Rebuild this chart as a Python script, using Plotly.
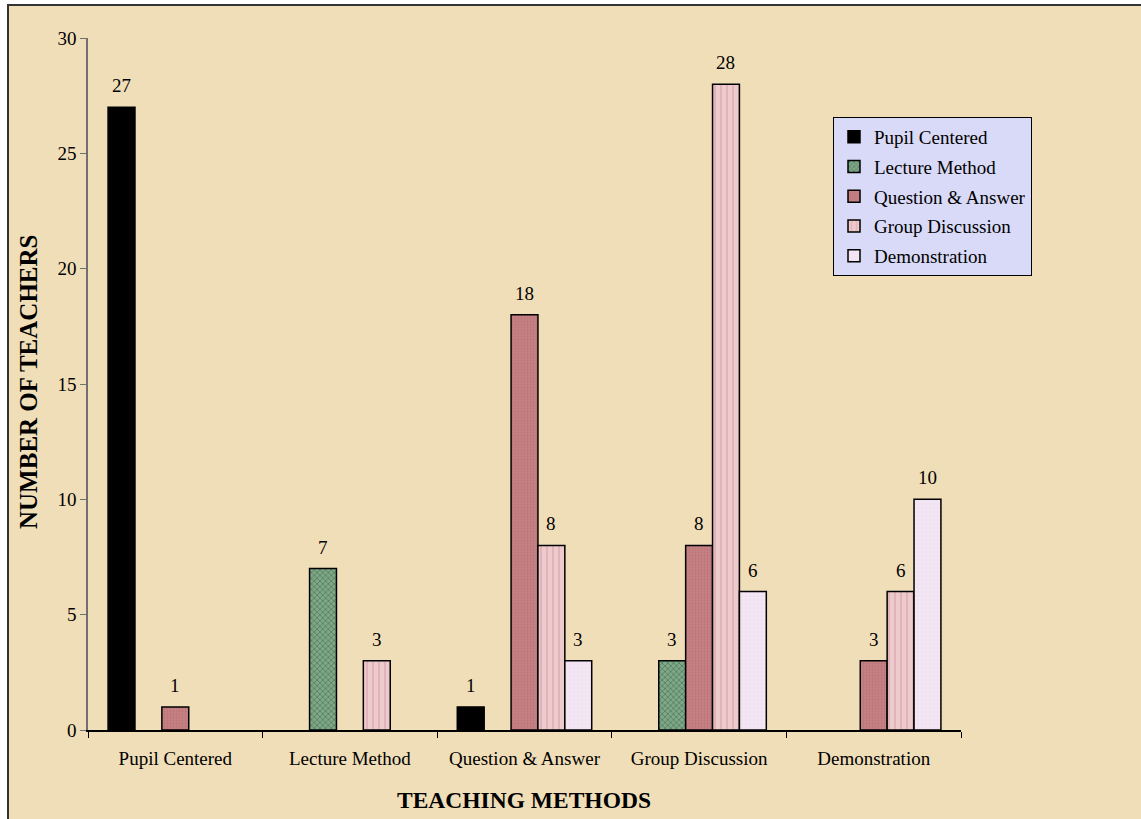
import plotly.graph_objects as go

categories = ["Pupil Centered", "Lecture Method", "Question & Answer", "Group Discussion", "Demonstration"]
series_names = ["Pupil Centered", "Lecture Method", "Question & Answer", "Group Discussion", "Demonstration"]
pupil_centered = [27, 0, 1, 0, 0]
lecture_method = [0, 7, 0, 3, 0]
question_answer = [1, 0, 18, 8, 3]
group_discussion = [0, 3, 8, 28, 6]
demonstration = [0, 0, 3, 6, 10]
y_ticks = [0, 5, 10, 15, 20, 25, 30]
x_title = "TEACHING METHODS"
y_title = "NUMBER OF TEACHERS"

series_values = [pupil_centered, lecture_method, question_answer, group_discussion, demonstration]
styles = [
    dict(color="#000000", pattern=None),
    dict(color="#6E9A78", pattern=dict(shape="x", fgcolor="#2F5A3A", bgcolor="#7FA888", size=4, solidity=0.4)),
    dict(color="#C07A7C", pattern=dict(shape=".", fgcolor="#B06A6E", bgcolor="#C58083", size=3, solidity=0.3)),
    dict(color="#ECC8CA", pattern=dict(shape="|", fgcolor="#D69EA6", bgcolor="#EDCBCD", size=6, solidity=0.35)),
    dict(color="#F2E4F2", pattern=dict(shape="+", fgcolor="#E3C8E3", bgcolor="#F4E8F4", size=4, solidity=0.25)),
]

FONT = "Liberation Serif, Times New Roman, serif"
FS = 19
L, R, T, B = 88, 180, 38, 89
W, H = 1141, 819
pw, ph = W - L - R, H - T - B
BARGAP = 0.23
n_series = len(series_names)
bar_px = pw / len(categories) * (1 - BARGAP) / n_series

def px_x(x):
    return (x - L) / pw

def px_y(y):
    return (H - B - y) / ph

fig = go.Figure()
for i, (name, vals) in enumerate(zip(series_names, series_values)):
    st = styles[i]
    marker = dict(color=st["color"], line=dict(color="#000000", width=1.5))
    if st["pattern"] is not None:
        marker["pattern"] = st["pattern"]
    fig.add_trace(go.Bar(
        name=name,
        x=categories,
        y=[v if v != 0 else None for v in vals],
        marker=marker,
        legendgroup=name,
    ))
    for cat, v in zip(categories, vals):
        if v != 0:
            fig.add_annotation(
                x=cat, y=v, xref="x", yref="y", text=str(v), showarrow=False,
                xanchor="center", yanchor="bottom",
                xshift=(i - (n_series - 1) / 2) * bar_px, yshift=9,
                font=dict(family=FONT, size=FS, color="#000000"),
            )

# axis titles
fig.add_annotation(x=px_x(524), y=px_y(800), xref="paper", yref="paper",
                   text="<b>" + x_title + "</b>", showarrow=False,
                   xanchor="center", yanchor="middle",
                   font=dict(family=FONT, size=23.5, color="#000000"))
fig.add_annotation(x=px_x(28), y=px_y(382), xref="paper", yref="paper",
                   text="<b>" + y_title + "</b>", showarrow=False, textangle=-90,
                   xanchor="center", yanchor="middle",
                   font=dict(family=FONT, size=25, color="#000000"))

fig.add_shape(type="rect", xref="paper", yref="paper",
              x0=px_x(8), x1=px_x(1160), y0=px_y(840), y1=px_y(5),
              line=dict(color="#333333", width=2), fillcolor="#F0DEB8", layer="below")

fig.update_layout(
    width=W, height=H,
    margin=dict(l=L, r=R, t=T, b=B, autoexpand=False),
    paper_bgcolor="#FFFFFF",
    plot_bgcolor="rgba(0,0,0,0)",
    barmode="group",
    bargap=BARGAP,
    bargroupgap=0,
    font=dict(family=FONT, size=FS, color="#000000"),
    legend=dict(
        x=px_x(833), y=px_y(117), xanchor="left", yanchor="top",
        bgcolor="#D9DAF7", bordercolor="#000000", borderwidth=1,
        font=dict(family=FONT, size=FS, color="#000000"),
        tracegroupgap=2, itemwidth=30,
    ),
    xaxis=dict(
        automargin=False,
        showline=True, linecolor="#000000", linewidth=1.5,
        ticks="outside", tickson="boundaries", ticklen=6, tickcolor="#000000",
        ticklabelstandoff=10,
        showgrid=False,
        tickfont=dict(family=FONT, size=FS),
    ),
    yaxis=dict(
        automargin=False,
        range=[0, 30], tickvals=y_ticks,
        showline=True, linecolor="#707070", linewidth=1.5,
        ticks="outside", ticklen=6, tickcolor="#707070",
        showgrid=False, zeroline=False,
        tickfont=dict(family=FONT, size=FS),
    ),
)

fig.write_html("out.html", config={"displayModeBar": False},
               post_script="document.body.style.margin='0';document.body.style.padding='0';")
